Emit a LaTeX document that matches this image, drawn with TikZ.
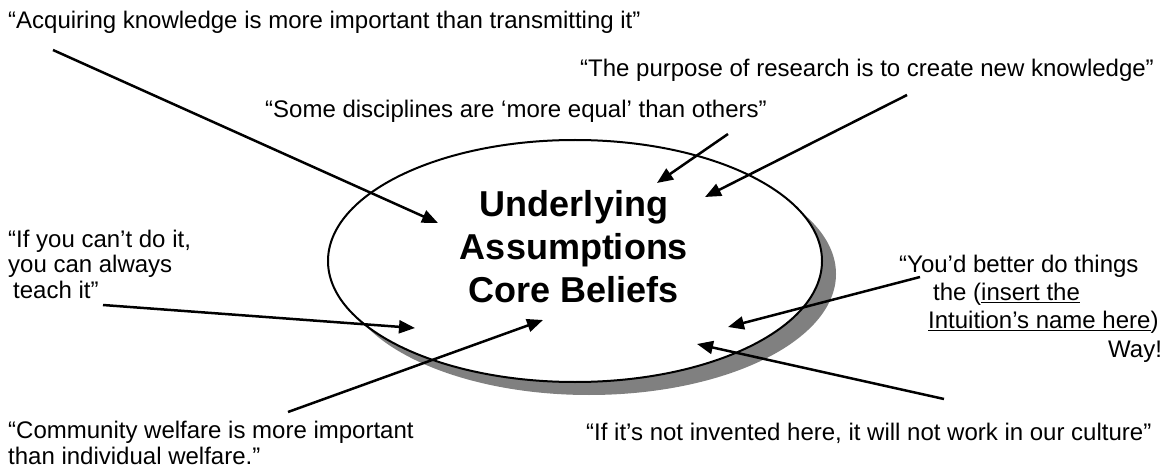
\documentclass[tikz,border=0pt]{standalone}
\usepackage{fontspec}
\setmainfont{Liberation Sans}
\usetikzlibrary{arrows.meta, shadows, shapes.geometric}

\begin{document}
\begin{tikzpicture}[x=1pt, y=-1pt,
    quote/.style={anchor=base west, align=left, inner sep=0pt,
        font=\fontsize{24}{25.5}\selectfont},
    core/.style={ellipse, draw, line width=2pt, fill=white,
        minimum width=494pt, minimum height=242pt,
        drop shadow={shadow xshift=14pt, shadow yshift=-13pt, fill=black!50, opacity=1}},
    title/.style={align=center, inner sep=0pt, font=\fontsize{36}{43}\selectfont\bfseries},
    belief/.style={line width=2.5pt, -{Triangle[length=16pt, width=13pt]}},
]
\useasboundingbox (0,0) rectangle (1171,468);

\node[core] (core) at (575,261) {};
\node[title] (title) at (574,247) {Underlying\\Assumptions\\Core Beliefs};

% base of a multi-line quote is its last line
\node[quote] (acquire) at (8,29) {“Acquiring knowledge is more important than transmitting it”};
\node[quote] (purpose) at (580,77) {“The purpose of research is to create new knowledge”};
\node[quote] (equal) at (265,118) {“Some disciplines are ‘more equal’ than others”};
\node[quote] (teach) at (8,298) {“If you can’t do it,\\you can always\\\hspace*{5pt}teach it”};
\node[quote] (welfare) at (8,464) {“Community welfare is more important\\than individual welfare.”};
\node[quote] (invented) at (586,440) {“If it’s not invented here, it will not work in our culture”};
\node[quote, font=\fontsize{24}{28.3}\selectfont] (way) at (899,357) {“You’d better do things\\
    \hspace*{34pt}the (\underline{insert the}\\
    \hspace*{29pt}\underline{Intuition’s name here})\\
    \hspace*{209pt}Way!};

% arrow ends
\coordinate (acquireFrom) at (53,50);    \coordinate (acquireTo) at (438,223);
\coordinate (purposeFrom) at (907,95);   \coordinate (purposeTo) at (705,197);
\coordinate (equalFrom) at (728,134);    \coordinate (equalTo) at (657,183);
\coordinate (teachFrom) at (103,305);    \coordinate (teachTo) at (415,328);
\coordinate (welfareFrom) at (288,412);  \coordinate (welfareTo) at (543,320);
\coordinate (wayFrom) at (920,277);      \coordinate (wayTo) at (728,327);
\coordinate (inventedFrom) at (944,399); \coordinate (inventedTo) at (697,344);

\foreach \b in {acquire, purpose, equal, teach, welfare, way, invented}
    \draw[belief] (\b From) -- (\b To);
\end{tikzpicture}
\end{document}
